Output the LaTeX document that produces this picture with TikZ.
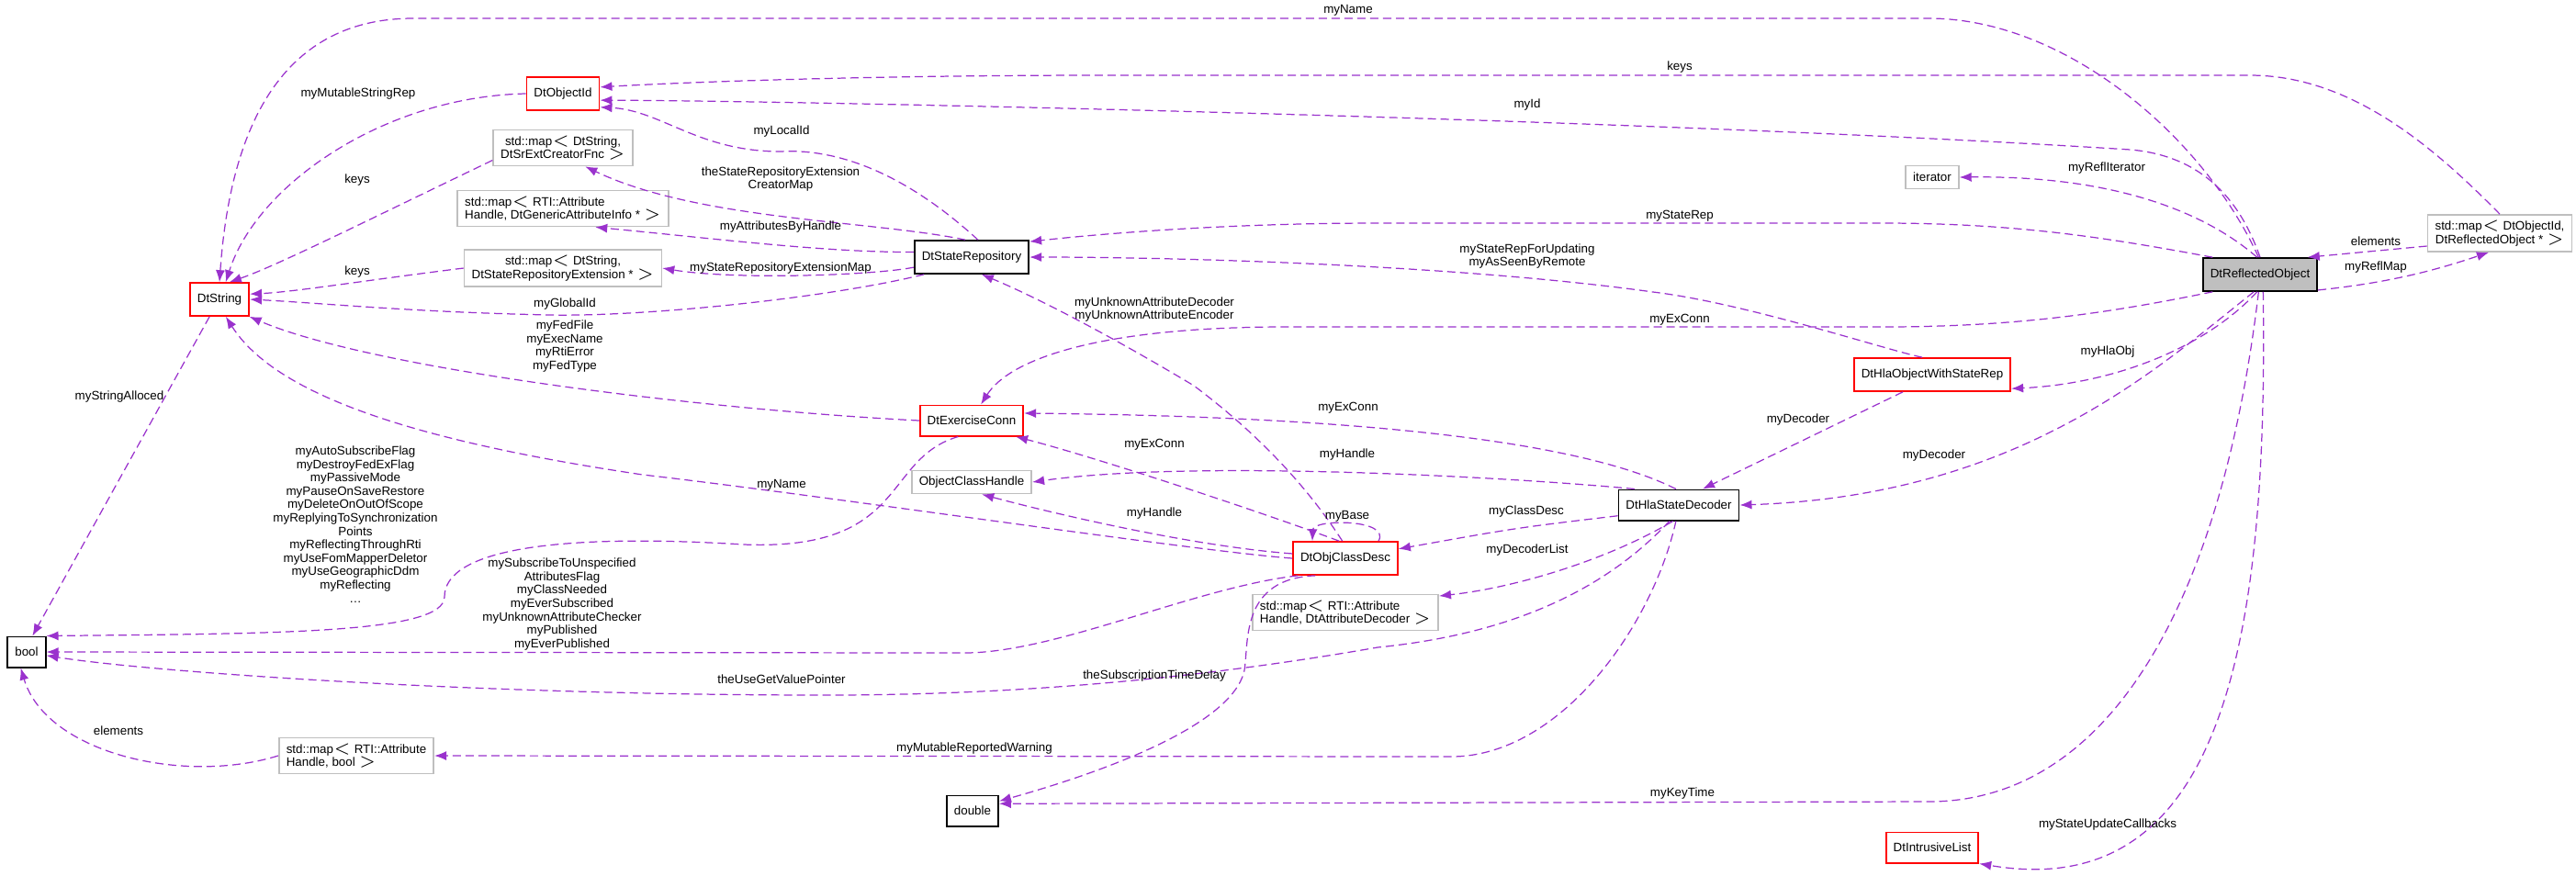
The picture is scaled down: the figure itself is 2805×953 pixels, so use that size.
\documentclass[tikz,border=0pt]{standalone}
\usepackage{fontspec}
\setmainfont{Liberation Sans}
\usetikzlibrary{arrows.meta}
\definecolor{linkcol}{HTML}{9A32CD}
\definecolor{roFill}{HTML}{BFBFBF}
\begin{document}
\begin{tikzpicture}[x=0.01cm,y=-0.01cm,font=\fontsize{3.8}{4.15}\selectfont]
%style for documented class
\tikzstyle{cls} = [rectangle, draw=black, line width=0.5pt, inner xsep=0.8mm, minimum height=0.25cm]

%style for class with members not shown
\tikzstyle{rcls} = [cls, draw=red]

%style for template instance
\tikzstyle{tcls} = [cls, draw=black!25, align=left, inner ysep=0.6mm]

%style for member link
\tikzstyle{link} = [draw=linkcol, line width=0.35pt, dash pattern=on 0.9mm off 0.5mm, -{Latex[length=1.3mm,width=1mm]}]

%style for link label
\tikzstyle{lbl} = [inner sep=0pt, align=center]

\useasboundingbox (0,0) rectangle (2805,953);

%place nodes
\node[cls, fill=roFill](ro) at (2461,299) {DtReflectedObject};
\node[rcls](oid) at (613,102) {DtObjectId};
\node[rcls](str) at (239,326) {DtString};
\node[cls](bool) at (29,710) {bool};
\node[tcls, align=center](srext) at (613,161) {std::map$<$ DtString,\\ DtSrExtCreatorFnc $>$};
\node[tcls](gai) at (613,227) {std::map$<$ RTI::Attribute\\Handle, DtGenericAttributeInfo * $>$};
\node[tcls, align=center](sre) at (613,292) {std::map$<$ DtString,\\ DtStateRepositoryExtension * $>$};
\node[tcls](mbool) at (388,823) {std::map$<$ RTI::Attribute\\Handle, bool $>$};
\node[cls](sr) at (1058,280) {DtStateRepository};
\node[rcls](ec) at (1058,458) {DtExerciseConn};
\node[tcls](och) at (1058,525) {ObjectClassHandle};
\node[rcls](ocd) at (1465,608) {DtObjClassDesc};
\node[tcls](mad) at (1465,667) {std::map$<$ RTI::Attribute\\Handle, DtAttributeDecoder $>$};
\node[cls](dbl) at (1059,883) {double};
\node[cls](hsd) at (1828,550) {DtHlaStateDecoder};
\node[tcls](iter) at (2104,193) {iterator};
\node[tcls, align=center](moi) at (2722,254) {std::map$<$ DtObjectId,\\ DtReflectedObject * $>$};
\node[rcls](howsr) at (2104,408) {DtHlaObjectWithStateRep};
\node[rcls](ilist) at (2104,923) {DtIntrusiveList};

%connect nodes with links
\draw[link] (ro.95) .. controls (2400,150) and (2250,20) .. (2100,20) -- (450,20) .. controls (300,20) and (250,150) .. (str.north);
\draw[link] (moi.north) .. controls (2650,160) and (2560,82) .. (2450,82) -- (1200,82) .. controls (900,82) and (700,92) .. (oid.10);
\draw[link] (ro.north) .. controls (2440,220) and (2400,170) .. (2320,163) .. controls (1800,130) and (900,110) .. (oid.-10);
\draw[link] (oid.west) .. controls (420,105) and (280,200) .. (str.70);
\draw[link] (sr.70) .. controls (1020,220) and (940,160) .. (850,165) .. controls (760,165) and (720,120) .. (oid.-20);
\draw[link] (sr.110) .. controls (950,240) and (760,240) .. (srext.-40);
\draw[link] (sr.175) .. controls (900,275) and (780,260) .. (gai.-30);
\draw[link] (sr.190) .. controls (950,300) and (800,305) .. (sre.east);
\draw[link] (sr.-160) .. controls (900,325) and (700,345) .. (600,343) .. controls (450,340) and (350,330) .. (str.east);
\draw[link] (srext.190) .. controls (400,240) and (300,290) .. (str.60);
\draw[link] (sre.west) .. controls (400,305) and (320,318) .. (str.10);
\draw[link] (ec.west) .. controls (750,445) and (400,400) .. (str.-30);
\draw[link] (ocd.west) .. controls (1300,600) and (900,540) .. (700,517) .. controls (450,480) and (300,430) .. (str.-70);
\draw[link] (ec.-130) .. controls (960,500) and (990,600) .. (810,593) .. controls (600,580) and (484,600) .. (484,650) .. controls (484,690) and (300,690) .. (bool.north east);
\draw[link] (ocd.200) .. controls (1300,640) and (1150,711) .. (1050,711) -- (bool.east);
\draw[link] (hsd.-120) .. controls (1750,640) and (1650,690) .. (1500,705) .. controls (1300,740) and (1100,757) .. (900,757) .. controls (500,757) and (150,730) .. (bool.-10);
\draw[link] (hsd.-100) .. controls (1800,680) and (1700,824) .. (1580,824) -- (mbool.east);
\draw[link] (mbool.west) .. controls (200,855) and (50,820) .. (bool.-110);
\draw[link] (str.-120) -- (bool.70);
\draw[link] (ocd.-150) .. controls (1350,630) and (1360,700) .. (1355,730) .. controls (1340,800) and (1150,855) .. (dbl.20);
\draw[link] (ro.-95) .. controls (2420,650) and (2300,873) .. (2100,873) -- (dbl.15);
\draw[link] (ro.-80) .. controls (2470,700) and (2420,985) .. (ilist.south east);
\draw[link] (ocd.100) .. controls (1430,540) and (1380,480) .. (1300,420) .. controls (1200,360) and (1120,320) .. (sr.-60);
\draw[link] (ro.160) .. controls (2300,260) and (2200,243) .. (2050,243) -- (1500,243) .. controls (1300,243) and (1150,260) .. (sr.15);
\draw[link] (howsr.120) .. controls (2050,380) and (1900,330) .. (1800,318) .. controls (1600,290) and (1300,280) .. (sr.east);
\draw[link] (ro.-160) .. controls (2300,340) and (2200,356) .. (2050,356) -- (1400,356) .. controls (1200,356) and (1100,390) .. (ec.60);
\draw[link] (hsd.100) .. controls (1760,500) and (1600,455) .. (ec.8);
\draw[link] (ocd.110) .. controls (1380,560) and (1200,500) .. (ec.-20);
\draw[link] (hsd.160) .. controls (1650,520) and (1300,500) .. (och.east);
\draw[link] (ocd.175) .. controls (1300,595) and (1150,560) .. (och.-50);
\draw[link] ([xshift=0.36cm]ocd.north) .. controls (1515,565) and (1430,565) .. ([xshift=-0.36cm]ocd.north);
\draw[link] (hsd.190) .. controls (1650,575) .. (ocd.10);
\draw[link] (hsd.-110) .. controls (1750,610) and (1650,640) .. (mad.10);
\draw[link] ([xshift=-0.32cm]howsr.south) -- ([xshift=0.26cm]hsd.north);
\draw[link] (ro.-110) .. controls (2350,400) and (2200,540) .. (hsd.east);
\draw[link] (ro.-100) .. controls (2400,380) and (2300,418) .. (howsr.-10);
\draw[link] (ro.100) .. controls (2400,230) and (2300,191) .. (iter.east);
\draw[link] (moi.190) -- (ro.20);
\draw[link] (ro.-15) .. controls (2600,308) and (2650,295) .. (moi.-120);

%link labels
\node[lbl](lMyName) at (1468,11) {myName};
\node[lbl](lKeysOid) at (1829,73) {keys};
\node[lbl](lMyId) at (1663,114) {myId};
\node[lbl](lMutRep) at (390,102) {myMutableStringRep};
\node[lbl](lLocalId) at (851,143) {myLocalId};
\node[lbl](lCreator) at (850,195) {theStateRepositoryExtension\\CreatorMap};
\node[lbl](lAttrHandle) at (850,247) {myAttributesByHandle};
\node[lbl](lExtMap) at (850,292) {myStateRepositoryExtensionMap};
\node[lbl](lKeysSr) at (389,196) {keys};
\node[lbl](lKeysSre) at (389,296) {keys};
\node[lbl](lGlobalId) at (615,331) {myGlobalId};
\node[lbl](lFed) at (615,377) {myFedFile\\myExecName\\myRtiError\\myFedType};
\node[lbl](lAlloced) at (130,432) {myStringAlloced};
\node[lbl](lFlags) at (387,571) {myAutoSubscribeFlag\\myDestroyFedExFlag\\myPassiveMode\\myPauseOnSaveRestore\\myDeleteOnOutOfScope\\myReplyingToSynchronization\\Points\\myReflectingThroughRti\\myUseFomMapperDeletor\\myUseGeographicDdm\\myReflecting\\\dots};
\node[lbl](lSubscr) at (612,658) {mySubscribeToUnspecified\\AttributesFlag\\myClassNeeded\\myEverSubscribed\\myUnknownAttributeChecker\\myPublished\\myEverPublished};
\node[lbl](lName) at (851,528) {myName};
\node[lbl](lGetValue) at (851,740) {theUseGetValuePointer};
\node[lbl](lElemBool) at (129,796) {elements};
\node[lbl](lWarning) at (1061,815) {myMutableReportedWarning};
\node[lbl](lStateRep) at (1829,235) {myStateRep};
\node[lbl](lUpdating) at (1663,279) {myStateRepForUpdating\\myAsSeenByRemote};
\node[lbl](lUnknown) at (1257,337) {myUnknownAttributeDecoder\\myUnknownAttributeEncoder};
\node[lbl](lExConnRo) at (1829,348) {myExConn};
\node[lbl](lExConnHsd) at (1468,444) {myExConn};
\node[lbl](lExConnOcd) at (1257,484) {myExConn};
\node[lbl](lHandleHsd) at (1467,495) {myHandle};
\node[lbl](lHandleOcd) at (1257,559) {myHandle};
\node[lbl](lBase) at (1467,562) {myBase};
\node[lbl](lClassDesc) at (1662,557) {myClassDesc};
\node[lbl](lDecList) at (1663,599) {myDecoderList};
\node[lbl](lTimeDelay) at (1257,736) {theSubscriptionTimeDelay};
\node[lbl](lKeyTime) at (1832,864) {myKeyTime};
\node[lbl](lReflIter) at (2294,183) {myReflIterator};
\node[lbl](lElemRo) at (2587,263) {elements};
\node[lbl](lReflMap) at (2587,291) {myReflMap};
\node[lbl](lHlaObj) at (2295,383) {myHlaObj};
\node[lbl](lDecHow) at (1958,457) {myDecoder};
\node[lbl](lDecRo) at (2106,496) {myDecoder};
\node[lbl](lCallbacks) at (2295,898) {myStateUpdateCallbacks};
\end{tikzpicture}
\end{document}
